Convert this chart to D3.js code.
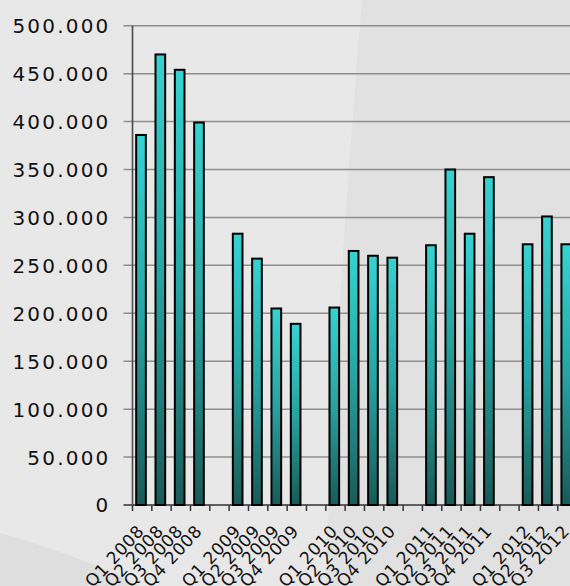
<!DOCTYPE html>
<html>
<head>
<meta charset="utf-8">
<script src="https://cdn.jsdelivr.net/npm/d3@7"></script>
<style>
  body { margin: 0; background: #e4e4e4; }
  svg { display: block; }
  .axisText { font-family: "DejaVu Sans", Verdana, sans-serif; fill: #111; }
</style>
</head>
<body>
<div id="svg-area"></div>
<script>
// quarters, with an empty slot between years
var labels = ["Q1 2008", "Q2 2008", "Q3 2008", "Q4 2008", "",
              "Q1 2009", "Q2 2009", "Q3 2009", "Q4 2009", "",
              "Q1 2010", "Q2 2010", "Q3 2010", "Q4 2010", "",
              "Q1 2011", "Q2 2011", "Q3 2011", "Q4 2011", "",
              "Q1 2012", "Q2 2012", "Q3 2012"];
// values in thousands
var values = [386, 470, 454, 399, null,
              283, 257, 205, 189, null,
              206, 265, 260, 258, null,
              271, 350, 283, 342, null,
              272, 301, 272];
var yTicks = [0, 50, 100, 150, 200, 250, 300, 350, 400, 450, 500];

var svgWidth = 570;
var svgHeight = 586;
var margin = { top: 25.7, left: 132.5, bottom: 81 };
var height = svgHeight - margin.top - margin.bottom;
var step = 19.33;
var width = step * labels.length;

var svg = d3.select("#svg-area")
    .append("svg")
    .attr("width", svgWidth)
    .attr("height", svgHeight);

// bar gradient
var defs = svg.append("defs");
var grad = defs.append("linearGradient")
    .attr("id", "barGrad")
    .attr("x1", 0).attr("y1", 0).attr("x2", 0).attr("y2", 1);
grad.append("stop").attr("offset", "0%").attr("stop-color", "#36d3d1");
grad.append("stop").attr("offset", "50%").attr("stop-color", "#27a3a1");
grad.append("stop").attr("offset", "100%").attr("stop-color", "#195a58");

// background
svg.append("rect")
    .attr("width", svgWidth).attr("height", svgHeight)
    .attr("fill", "#e1e1e1");
svg.append("path")
    .attr("d", "M0,0 L362,0 C350,150 338,300 325,586 L0,586 Z")
    .attr("fill", "#e8e8e8");
svg.append("path")
    .attr("d", "M0,533 C60,550 110,570 140,586 L0,586 Z")
    .attr("fill", "#dedede");

var chartGroup = svg.append("g")
    .attr("transform", `translate(${margin.left}, ${margin.top})`);

var xScale = d3.scaleBand()
    .domain(d3.range(labels.length))
    .range([0, width]);

var yLinearScale = d3.scaleLinear()
    .domain([0, 500])
    .range([height, 0]);

var fmt = d3.formatLocale({ decimal: ",", thousands: ".", grouping: [3], currency: ["", ""] }).format(",");

// grid lines
chartGroup.append("g")
    .selectAll("line")
    .data(yTicks)
    .enter()
    .append("line")
    .attr("x1", -9)
    .attr("x2", svgWidth)
    .attr("y1", d => yLinearScale(d))
    .attr("y2", d => yLinearScale(d))
    .attr("stroke", d => d === 0 ? "#333" : "#8e8e8e")
    .attr("stroke-width", 1.5);

// y tick labels
chartGroup.append("g")
    .selectAll("text")
    .data(yTicks)
    .enter()
    .append("text")
    .attr("class", "axisText")
    .attr("x", -22)
    .attr("y", d => yLinearScale(d) + 7.5)
    .attr("text-anchor", "end")
    .attr("font-size", "20px")
    .attr("letter-spacing", "2.2px")
    .text(d => fmt(d * 1000));

// y axis line
chartGroup.append("line")
    .attr("x1", 0).attr("x2", 0)
    .attr("y1", 0).attr("y2", height)
    .attr("stroke", "#4a4a4a")
    .attr("stroke-width", 1.6);

// x ticks on category boundaries
chartGroup.append("g")
    .selectAll("line")
    .data(d3.range(labels.length + 1))
    .enter()
    .append("line")
    .attr("x1", d => d * xScale.step())
    .attr("x2", d => d * xScale.step())
    .attr("y1", height)
    .attr("y2", height + 6)
    .attr("stroke", "#333")
    .attr("stroke-width", 1.5);

// bars
chartGroup.append("g")
    .selectAll("rect")
    .data(values.map((v, i) => ({ i: i, v: v })).filter(d => d.v !== null))
    .enter()
    .append("rect")
    .attr("x", d => xScale(d.i) + xScale.bandwidth() * 0.19)
    .attr("width", xScale.bandwidth() * 0.5)
    .attr("y", d => yLinearScale(d.v))
    .attr("height", d => height - yLinearScale(d.v))
    .attr("fill", "url(#barGrad)")
    .attr("stroke", "#000")
    .attr("stroke-width", 2);

// x labels (run off the bottom edge, as in the original)
chartGroup.append("g")
    .selectAll("text")
    .data(labels.map((l, i) => ({ i: i, l: l })).filter(d => d.l !== ""))
    .enter()
    .append("text")
    .attr("class", "axisText")
    .attr("text-anchor", "end")
    .attr("font-size", "17px")
    .attr("letter-spacing", "0.6px")
    .attr("transform", d => `translate(${xScale(d.i) + xScale.bandwidth() / 2 + 3}, ${height + 27}) rotate(-47)`)
    .text(d => d.l);
</script>
</body>
</html>
